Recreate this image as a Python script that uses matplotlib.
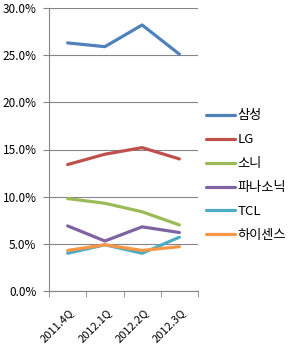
import matplotlib
matplotlib.use("Agg")
import matplotlib.pyplot as plt
import matplotlib.transforms as mtransforms
import numpy as np
from matplotlib.ticker import FuncFormatter, FixedLocator

plt.rcParams['font.family'] = ['Noto Sans CJK KR', 'DejaVu Sans']

quarters = ["2011.4Q", "2012.1Q", "2012.2Q", "2012.3Q"]
samsung = [26.3, 25.9, 28.2, 25.1]
lg = [13.4, 14.5, 15.2, 14.0]
sony = [9.8, 9.3, 8.4, 7.0]
panasonic = [6.9, 5.3, 6.8, 6.2]
tcl = [4.0, 4.9, 4.0, 5.7]
hisense = [4.3, 4.9, 4.3, 4.7]

names = ["삼성", "LG", "소니", "파나소닉", "TCL", "하이센스"]
series = [samsung, lg, sony, panasonic, tcl, hisense]
colors = ["#4F81BD", "#C0504D", "#9BBB59", "#8064A2", "#4BACC6", "#F79646"]

fig = plt.figure(figsize=(2.89, 3.45), dpi=100)
ax = fig.add_axes([49 / 289, 54 / 345, 149 / 289, 283 / 345])

x = np.arange(len(quarters))
for name, vals, c in zip(names, series, colors):
    ax.plot(x, vals, color=c, lw=2.3, label=name, solid_capstyle='round')

ax.set_xlim(-0.5, len(quarters) - 0.5)
ax.set_ylim(0, 30)
ax.set_yticks(np.arange(0, 31, 5))
ax.yaxis.set_major_formatter(FuncFormatter(lambda v, p: f"{v:.1f}%"))
ax.grid(axis='y', color='#868686', lw=0.8)
ax.set_axisbelow(True)

ax.set_xticks(x)
ax.set_xticklabels(quarters, rotation=45, ha='right', rotation_mode='anchor')
ax.xaxis.set_minor_locator(FixedLocator(np.arange(-0.5, len(quarters), 1)))
ax.tick_params(axis='x', which='major', length=0, pad=8, labelsize=8)
ax.tick_params(axis='x', which='minor', length=4, color='#868686', direction='out')
ax.tick_params(axis='y', length=4, color='#868686', direction='out', pad=5,
               labelsize=8.5)

# push the rotated labels down a bit, like the original
shift = mtransforms.ScaledTranslation(1 / 100, -5 / 100, fig.dpi_scale_trans)
for lab in ax.get_xticklabels():
    lab.set_transform(lab.get_transform() + shift)

for s in ['top', 'right']:
    ax.spines[s].set_visible(False)
for s in ['left', 'bottom']:
    ax.spines[s].set_color('#868686')
    ax.spines[s].set_linewidth(0.8)

fig.legend(loc='upper left', bbox_to_anchor=(201 / 289, 1 - 104 / 345),
           frameon=False, fontsize=9.5, handlelength=2.2, handletextpad=0.15,
           labelspacing=0.83, borderaxespad=0)

fig.savefig("out.png", dpi=100)
